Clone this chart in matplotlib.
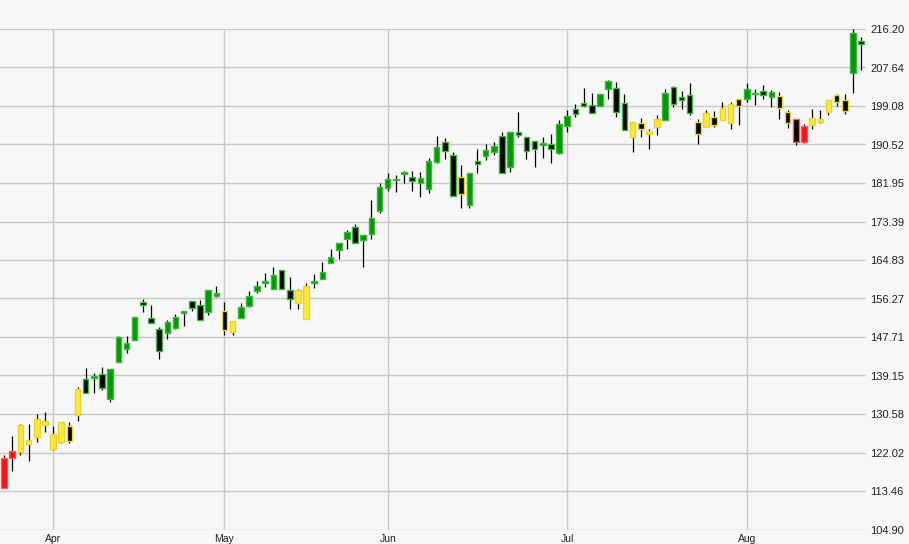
import numpy as np
import matplotlib
matplotlib.use('Agg')
import matplotlib.pyplot as plt
from matplotlib.transforms import offset_copy

# OHLC values, one entry per trading day
opens = [114.13, 120.91, 122.13, 123.92, 125.47, 128.14, 122.80, 124.36, 127.92, 130.36,
         138.37, 138.59, 139.48, 133.92, 142.15, 145.04, 147.04, 155.50, 151.94, 149.49,
         148.60, 149.71, 153.05, 155.72, 154.83, 153.27, 156.83, 153.49, 148.82, 151.94,
         154.61, 157.94, 159.72, 158.39, 162.61, 158.16, 155.27, 151.71, 159.72, 160.61,
         164.17, 167.06, 169.51, 172.18, 169.28, 170.62, 175.73, 180.85, 182.62, 183.96,
         183.30, 181.96, 180.63, 186.63, 191.08, 188.19, 183.30, 177.07, 186.85, 187.97,
         188.86, 192.41, 185.52, 193.30, 192.19, 191.30, 190.41, 190.63, 188.63, 194.64,
         198.42, 199.75, 199.31, 199.09, 202.87, 203.09, 199.75, 192.19, 195.30, 192.86,
         194.41, 195.97, 203.31, 201.09, 201.53, 195.53, 194.41, 196.64, 195.97, 195.30,
         200.64, 200.64, 201.75, 202.42, 201.09, 201.31, 197.75, 196.19, 191.08, 194.86,
         195.53, 197.75, 201.53, 200.42, 206.42, 213.54]
highs = [121.47, 125.69, 128.36, 128.36, 130.59, 131.03, 127.92, 128.81, 128.81, 136.59,
         140.82, 139.70, 141.04, 140.59, 147.93, 147.93, 152.16, 156.16, 154.83, 149.93,
         151.49, 152.83, 153.49, 155.72, 155.94, 158.16, 159.05, 155.50, 151.27, 155.27,
         157.94, 160.17, 161.95, 163.28, 162.61, 161.06, 158.39, 159.72, 161.72, 164.39,
         167.28, 168.62, 171.51, 172.84, 170.40, 178.18, 181.96, 184.18, 183.74, 184.63,
         184.63, 184.41, 187.52, 192.41, 191.97, 188.86, 185.96, 184.18, 189.52, 190.63,
         191.08, 193.30, 193.30, 197.75, 192.19, 191.30, 192.19, 192.86, 195.97, 198.20,
         199.53, 203.09, 201.98, 201.75, 204.87, 204.42, 201.75, 195.53, 196.42, 193.97,
         197.08, 202.87, 203.53, 202.42, 204.20, 196.19, 198.20, 197.97, 199.97, 199.97,
         200.64, 204.20, 202.87, 203.76, 202.64, 202.20, 198.20, 196.19, 195.08, 198.42,
         198.20, 200.42, 201.75, 201.75, 216.21, 214.43]
lows = [114.13, 117.91, 121.47, 120.13, 124.36, 126.58, 122.58, 124.14, 124.14, 129.03,
        135.26, 135.26, 135.92, 133.25, 142.15, 144.15, 147.04, 153.27, 150.83, 142.82,
        147.27, 149.49, 150.16, 153.49, 151.49, 152.60, 156.61, 148.16, 148.16, 151.94,
        154.38, 157.50, 158.83, 158.39, 158.39, 153.94, 153.94, 151.71, 158.61, 160.61,
        164.17, 165.06, 167.28, 168.62, 163.28, 169.51, 175.29, 180.18, 179.96, 181.96,
        180.18, 178.85, 179.74, 186.41, 187.30, 179.07, 176.40, 176.40, 184.18, 187.08,
        188.19, 184.18, 184.41, 192.19, 187.30, 185.52, 187.52, 186.41, 188.41, 193.30,
        196.64, 198.86, 197.53, 199.09, 200.64, 196.64, 193.75, 188.86, 192.19, 189.52,
        192.64, 195.97, 198.86, 198.42, 197.08, 190.63, 194.41, 194.41, 195.97, 193.97,
        194.86, 199.97, 199.31, 200.64, 198.86, 196.19, 194.19, 190.41, 190.86, 193.97,
        195.30, 197.08, 199.09, 197.31, 201.98, 207.09]
closes = [120.80, 122.25, 128.14, 124.80, 129.47, 129.03, 126.14, 128.81, 124.58, 136.17,
          135.26, 139.04, 136.37, 140.59, 147.71, 146.38, 152.16, 154.83, 150.83, 144.60,
          151.05, 152.16, 153.49, 154.16, 151.49, 158.16, 157.50, 149.27, 151.27, 154.38,
          156.83, 159.05, 160.17, 161.50, 158.39, 156.16, 158.16, 159.05, 160.17, 162.13,
          165.50, 168.62, 171.06, 168.62, 170.40, 174.18, 181.07, 182.85, 182.85, 184.41,
          182.41, 183.07, 186.85, 189.97, 189.08, 179.07, 179.51, 184.18, 186.19, 189.30,
          190.19, 184.18, 193.30, 192.64, 189.08, 189.52, 190.86, 189.52, 195.08, 196.86,
          197.31, 199.09, 197.53, 201.75, 204.65, 197.75, 193.75, 195.53, 193.97, 193.53,
          196.19, 201.98, 199.53, 200.42, 197.53, 192.86, 197.53, 194.86, 198.64, 199.53,
          199.09, 202.87, 201.98, 201.53, 202.20, 198.64, 195.30, 191.08, 194.64, 196.42,
          196.19, 200.42, 199.97, 197.97, 215.32, 212.87]
# candle colour code per day: r = red, y = yellow, g = green
candle_codes = ("rr" + "y" * 8 + "g" * 17 + "yy" + "g" * 7 + "yy" + "g" * 18 + "y"
                + "g" * 20 + "y" * 4 + "g" * 4 + "y" * 6 + "g" * 4 + "yy" + "rr"
                + "y" * 5 + "gg")

month_labels = ['Apr', 'May', 'Jun', 'Jul', 'Aug']
month_index = [6, 27, 47, 69, 91]   # first trading day of each month
price_ticks = [104.90, 113.46, 122.02, 130.58, 139.15, 147.71, 156.27,
               164.83, 173.39, 181.95, 190.52, 199.08, 207.64, 216.20]

fill_col = {'g': '#009900', 'y': '#ffe83a', 'r': '#ff1010'}
edge_col = {'g': '#40b840', 'y': '#e8d430', 'r': '#ff5a5a'}

bg = '#f7f7f7'
fig = plt.figure(figsize=(9.09, 5.44), dpi=100, facecolor=bg)
ax = fig.add_axes([0, 14.5 / 544, 866 / 909, 500.5 / 544], facecolor=bg)

x = np.arange(len(opens))
o = np.array(opens)
c = np.array(closes)

# wicks
ax.vlines(x, lows, highs, color='black', linewidth=0.9, zorder=3)

# bodies: coloured when close > open, black with coloured outline otherwise
bottoms = np.minimum(o, c)
heights = np.maximum(np.abs(c - o), 0.3)
faces = [fill_col[k] if cl >= op else 'black' for k, op, cl in zip(candle_codes, o, c)]
edges = [edge_col[k] for k in candle_codes]
ax.bar(x, heights, bottom=bottoms, width=0.68, color=faces, edgecolor=edges,
       linewidth=1.0, zorder=4)

ax.set_xlim(-0.5, 105.6)
ax.set_ylim(104.90, 216.20)

for v in price_ticks:
    ax.axhline(v, color='#c8c8c8', linewidth=1.0, zorder=1)
for i in month_index:
    ax.axvline(i, color='#c8c8c8', linewidth=1.0, zorder=1)

for s in ax.spines.values():
    s.set_visible(False)
ax.set_xticks([])
ax.set_yticks([])

# price labels on the right, sitting just above their gridline
lab_tr = offset_copy(ax.get_yaxis_transform(), fig=fig, x=3, y=-3, units='points')
for v in price_ticks:
    ax.text(1.0, v, f'{v:.2f}', transform=lab_tr, ha='left', va='baseline',
            fontsize=8, color='#222222', family=['Liberation Sans', 'DejaVu Sans'],
            clip_on=False)

# month labels under the axis
mon_tr = offset_copy(ax.get_xaxis_transform(), fig=fig, x=0, y=-3, units='points')
for i, m in zip(month_index, month_labels):
    ax.text(i, 0, m, transform=mon_tr, ha='center', va='top', fontsize=7.5,
            color='#222222', family=['Liberation Sans Narrow', 'Liberation Sans', 'DejaVu Sans'],
            clip_on=False)

fig.savefig('out.png', dpi=100, facecolor=bg)
